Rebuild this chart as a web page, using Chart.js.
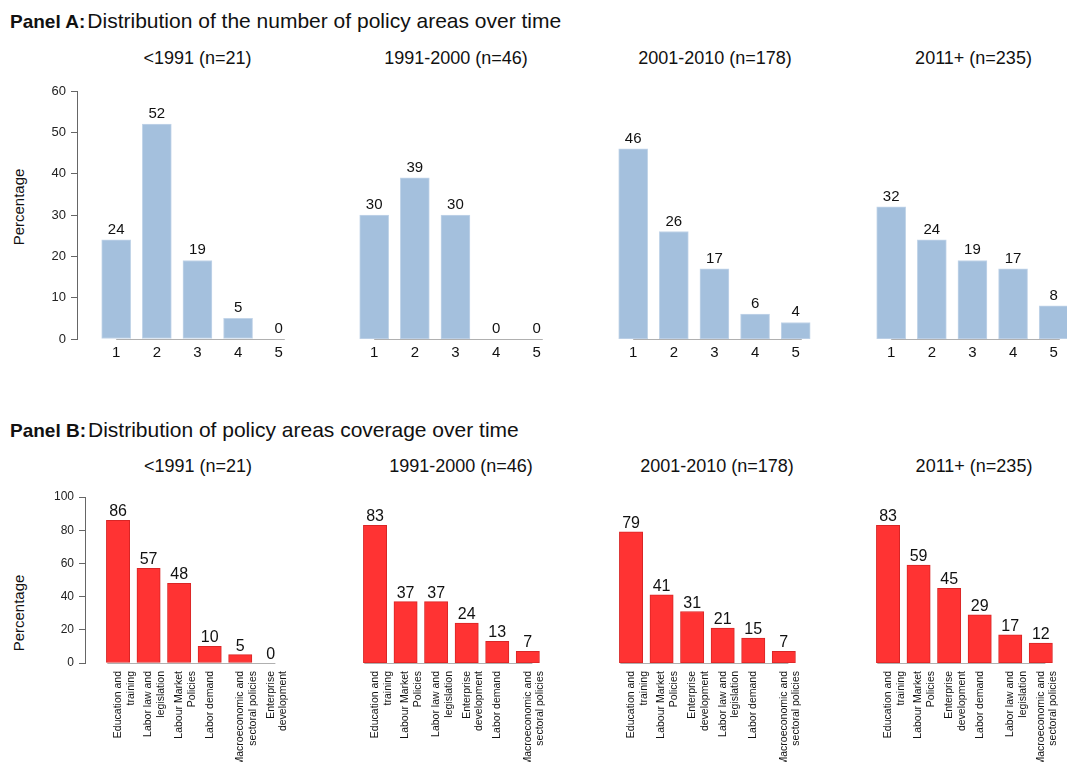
<!DOCTYPE html>
<html><head><meta charset="utf-8">
<script src="https://cdn.jsdelivr.net/npm/chart.js@4.4.1/dist/chart.umd.min.js"></script>
<style>
html,body{margin:0;padding:0;background:#fff;}
body{width:1067px;height:762px;overflow:hidden;position:relative;font-family:"Liberation Sans",Arial,sans-serif;color:#111;}
.ptitle{position:absolute;left:10px;font-size:21px;line-height:22px;white-space:nowrap;}
.ptitle b{font-size:19px;margin-right:2px;}
.sub{position:absolute;font-size:18px;line-height:20px;white-space:nowrap;transform:translateX(-50%);}
.ytitle{position:absolute;font-size:15px;line-height:18px;white-space:nowrap;transform:translate(-50%,-50%) rotate(-90deg);}
canvas{position:absolute;}
</style></head><body>
<div class="ptitle" style="top:10px"><b>Panel A:</b>Distribution of the number of policy areas over time</div>
<div class="ptitle" style="top:419px"><b>Panel B:</b>Distribution of policy areas coverage over time</div>
<div class="ytitle" style="left:19px;top:207px">Percentage</div>
<div class="ytitle" style="left:19px;top:613px">Percentage</div>
<div id="subsA"></div>
<div id="subsB"></div>
<canvas id="a0"></canvas><canvas id="a1"></canvas><canvas id="a2"></canvas><canvas id="a3"></canvas>
<canvas id="b0"></canvas><canvas id="b1"></canvas><canvas id="b2"></canvas><canvas id="b3"></canvas>
<script>
// ---- Data ----
const periods = ['<1991 (n=21)', '1991-2000 (n=46)', '2001-2010 (n=178)', '2011+ (n=235)'];

// Panel A: number of policy areas
const numAreas = ['1', '2', '3', '4', '5'];
const areasLt1991 = [24, 52, 19, 5, 0];
const areas1991to2000 = [30, 39, 30, 0, 0];
const areas2001to2010 = [46, 26, 17, 6, 4];
const areas2011plus = [32, 24, 19, 17, 8];

// Panel B: policy area coverage
const EDU = ['Education and', 'training'];
const LAW = ['Labor law and', 'legislation'];
const LMP = ['Labour Market', 'Policies'];
const DEM = 'Labor demand';
const MAC = ['Macroeconomic and', 'sectoral policies'];
const ENT = ['Enterprise', 'development'];

const catsLt1991 = [EDU, LAW, LMP, DEM, MAC, ENT];
const covLt1991 = [86, 57, 48, 10, 5, 0];
const cats1991to2000 = [EDU, LMP, LAW, ENT, DEM, MAC];
const cov1991to2000 = [83, 37, 37, 24, 13, 7];
const cats2001to2010 = [EDU, LMP, ENT, LAW, DEM, MAC];
const cov2001to2010 = [79, 41, 31, 21, 15, 7];
const cats2011plus = [EDU, LMP, ENT, DEM, LAW, MAC];
const cov2011plus = [83, 59, 45, 29, 17, 12];

const yTicksA = [0, 10, 20, 30, 40, 50, 60];
const yTicksB = [0, 20, 40, 60, 80, 100];

// ---- Titles ----
const subCentersA = [197.5, 456, 715, 973.5];
const subCentersB = [198, 461, 717, 974];
function addSubs(id, centers, top) {
  const host = document.getElementById(id);
  periods.forEach((p, i) => {
    const d = document.createElement('div');
    d.className = 'sub'; d.textContent = p;
    d.style.left = centers[i] + 'px'; d.style.top = top + 'px';
    host.appendChild(d);
  });
}
addSubs('subsA', subCentersA, 48);
addSubs('subsB', subCentersB, 456);

// ---- Plugin: value labels + baseline ----
const decor = {
  id: 'decor',
  beforeDatasetsDraw(chart, args, o) {
    const {ctx} = chart, xs = chart.scales.x, ys = chart.scales.y;
    const y0 = Math.round(ys.getPixelForValue(0)) + 0.5;
    ctx.save();
    ctx.strokeStyle = o.lineColor; ctx.lineWidth = 1;
    ctx.beginPath();
    ctx.moveTo(xs.getPixelForValue(o.lineFrom), y0);
    ctx.lineTo(xs.getPixelForValue(o.lineTo), y0);
    ctx.stroke();
    ctx.restore();
  },
  afterDatasetsDraw(chart, args, o) {
    const {ctx} = chart;
    const meta = chart.getDatasetMeta(0);
    const data = chart.data.datasets[0].data;
    ctx.save();
    ctx.fillStyle = '#111';
    ctx.font = o.fontSize + 'px "Liberation Sans", Arial, sans-serif';
    ctx.textAlign = 'center'; ctx.textBaseline = 'alphabetic';
    meta.data.forEach((bar, i) => {
      ctx.fillText(String(data[i].y), bar.x, bar.y - o.gap);
    });
    ctx.restore();
  }
};

const FONT = '"Liberation Sans", Arial, sans-serif';

function makeChart(id, cfg) {
  const c = document.getElementById(id);
  c.width = cfg.w; c.height = cfg.h;
  c.style.left = cfg.left + 'px'; c.style.top = cfg.top + 'px';
  c.style.width = cfg.w + 'px'; c.style.height = cfg.h + 'px';
  const cats = cfg.cats;
  const lh = cfg.xFont * 1.2;
  new Chart(c, {
    type: 'bar',
    data: {
      datasets: [{
        data: cfg.values.map((v, i) => ({x: i + 1, y: v})),
        backgroundColor: cfg.fill, borderColor: cfg.border, borderWidth: 1,
        barThickness: cfg.barW, borderSkipped: false
      }]
    },
    options: {
      responsive: false, animation: false, devicePixelRatio: 1,
      layout: {padding: {left: 0, top: cfg.padTop, right: 0, bottom: 0}},
      plugins: {
        legend: {display: false}, tooltip: {enabled: false},
        decor: {lineColor: '#b0b0b0', lineFrom: cfg.lineFrom, lineTo: cats.length + cfg.lineToExtra, fontSize: cfg.valFont, gap: cfg.gap}
      },
      scales: {
        x: {
          type: 'linear', min: cfg.xMin, max: cats.length + 0.5, offset: false,
          grid: {display: false, drawTicks: false}, border: {display: false},
          afterBuildTicks: s => { s.ticks = cats.map((_, i) => ({value: i + 1})); },
          afterFit: s => { s.height = cfg.xH; },
          ticks: {
            callback: v => cats[v - 1], autoSkip: false,
            maxRotation: cfg.rot, minRotation: cfg.rot,
            labelOffset: ctx => (cfg.rot && Array.isArray(cats[ctx.index])) ? -lh / 2 : 0,
            font: {size: cfg.xFont, family: FONT}, color: '#111', padding: cfg.xPad
          }
        },
        y: {
          display: cfg.showY, min: 0, max: cfg.yTicks[cfg.yTicks.length - 1],
          afterBuildTicks: s => { s.ticks = cfg.yTicks.map(v => ({value: v})); },
          afterFit: s => { s.width = cfg.yW; },
          grid: {drawOnChartArea: false, drawTicks: true, tickLength: 6, color: '#666'},
          border: {display: true, color: '#666', width: 1},
          ticks: {font: {size: cfg.yFont, family: FONT}, color: '#222', padding: 5}
        }
      }
    },
    plugins: [decor]
  });
}

const seriesA = [areasLt1991, areas1991to2000, areas2001to2010, areas2011plus];
seriesA.forEach((vals, k) => {
  makeChart('a' + k, {
    left: 258.3 * k, top: 75, w: 299, h: 294,
    cats: numAreas, values: vals, showY: k === 0, yW: 77,
    xMin: 0.035, xH: 30, padTop: 16, rot: 0, xFont: 15, xPad: 5,
    yTicks: yTicksA, yFont: 13, valFont: 15, gap: 6,
    fill: '#a4c0dd', border: '#c3d5e9', barW: 29, lineFrom: 1, lineToExtra: 0.15
  });
});

const catsB = [catsLt1991, cats1991to2000, cats2001to2010, cats2011plus];
const seriesB = [covLt1991, cov1991to2000, cov2001to2010, cov2011plus];
seriesB.forEach((vals, k) => {
  makeChart('b' + k, {
    left: 256.5 * k, top: 480, w: 304, h: 283,
    cats: catsB[k], values: vals, showY: k === 0, yW: 85,
    xMin: -0.081, xH: 100, padTop: 17, rot: 90, xFont: 10.5, xPad: 8,
    yTicks: yTicksB, yFont: 12, valFont: 16, gap: 4,
    fill: '#ff3333', border: '#d92626', barW: 23.3, lineFrom: 0.65, lineToExtra: 0.15
  });
});
</script>
</body></html>
